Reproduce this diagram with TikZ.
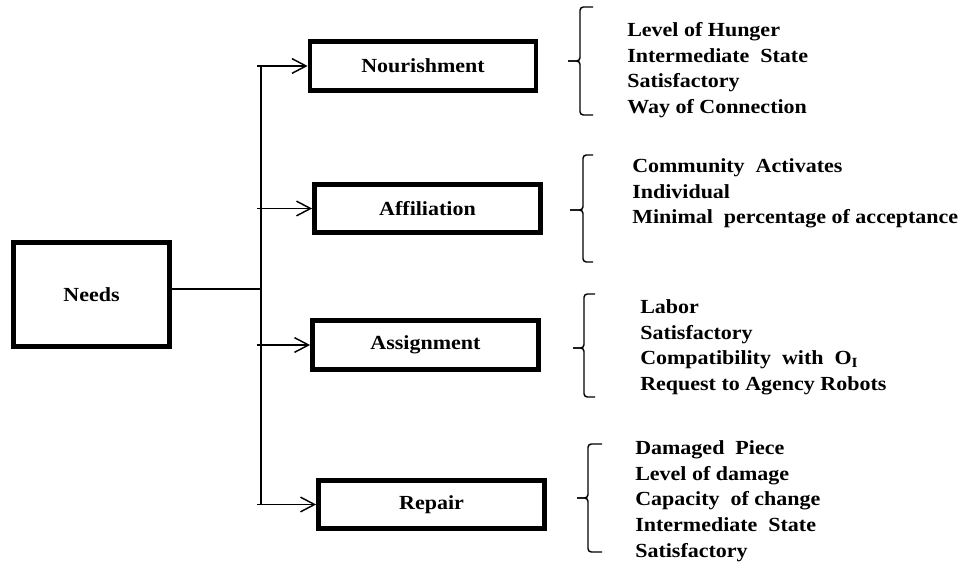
\documentclass[tikz,border=0pt]{standalone}
\usepackage{fontspec}
\setmainfont{Liberation Serif}[FakeStretch=1.1]
\usetikzlibrary{arrows.meta}
\begin{document}
\begin{tikzpicture}[x=0.75pt,y=-0.75pt,
  box/.style={draw, line width=3.6pt, inner sep=0pt,
    font=\fontsize{15}{18}\selectfont\bfseries},
  subbox/.style={box, minimum width=169.5pt, minimum height=36.5pt},
  link/.style={line width=1.1pt},
  feed/.style={link, -{Straight Barb[length=10.5pt,width=11pt]}},
  brace/.style={line width=1.1pt, rounded corners=2.5pt},
  items/.style={anchor=base west, inner sep=0pt,
    font=\fontsize{15}{19.3}\selectfont\bfseries}]
\useasboundingbox (0,0) rectangle (961,563);

% main box and the four kinds of need
\node[box, minimum width=117pt, minimum height=78pt] (needs) at (91.5,294.5) {Needs};
\node[subbox] (nour) at (423,66)    {Nourishment};
\node[subbox] (aff)  at (427.5,208.5) {Affiliation};
\node[subbox] (asg)  at (425.5,345) {Assignment};
\node[subbox] (rep)  at (431.5,504.5) {Repair};

% trunk line and branches
\coordinate (trunk) at (261,0);
\coordinate (stub)  at (257,0);
\coordinate (join)  at (261,289);
\draw[link] (needs.east |- join) -- (join);
\draw[link] (trunk |- nour.west) -- (trunk |- rep.west);
\foreach \b in {nour,aff,asg,rep}
  \draw[feed] (stub |- \b.west) -- (\b.west);

% attribute lists
\node[items] (l1) at (627,36.5) {\begin{tabular}[t]{@{}l@{}}
  Level of Hunger\\ Intermediate\ \ State\\ Satisfactory\\ Way of Connection\end{tabular}};
\node[items] (l2) at (632,172.5) {\begin{tabular}[t]{@{}l@{}}
  Community\ \ Activates\\ Individual\\ Minimal\ \ percentage of acceptance\end{tabular}};
\node[items] (l3) at (640,313.5) {\begin{tabular}[t]{@{}l@{}}
  Labor\\ Satisfactory\\ Compatibility\ \ with\ \ O\textsubscript{I}\\ Request to Agency Robots\end{tabular}};
\node[items] (l4) at (635,454.5) {\begin{tabular}[t]{@{}l@{}}
  Damaged\ \ Piece\\ Level of damage\\ Capacity\ \ of change\\ Intermediate\ \ State\\ Satisfactory\end{tabular}};

% braces in front of the lists: #1 spine x, #2 tip x, #3 end x, #4 top, #5 tip y, #6 bottom
\newcommand\listbrace[6]{%
  \draw[brace] (#3,#4) -- (#1,#4) -- (#1,#5) -- (#2,#5);
  \draw[brace] (#2,#5) -- (#1,#5) -- (#1,#6) -- (#3,#6);}
\listbrace{580}{568}{593}{7}{61}{115}
\listbrace{583}{570}{593}{155}{210}{262}
\listbrace{584}{573}{595}{294}{348}{397}
\listbrace{588}{577}{602}{444}{498}{552}
\end{tikzpicture}
\end{document}
